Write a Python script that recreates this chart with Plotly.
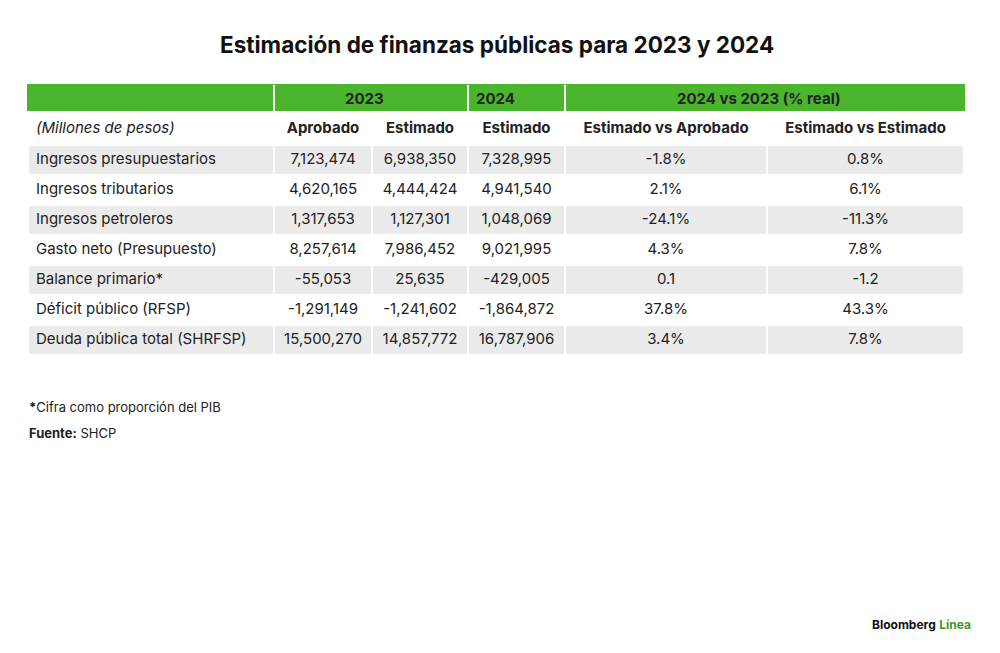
import plotly.graph_objects as go

labels = ["Ingresos presupuestarios", "Ingresos tributarios", "Ingresos petroleros",
          "Gasto neto (Presupuesto)", "Balance primario*", "Déficit público (RFSP)",
          "Deuda pública total (SHRFSP)"]
aprobado_2023 = ["7,123,474", "4,620,165", "1,317,653", "8,257,614", "-55,053", "-1,291,149", "15,500,270"]
estimado_2023 = ["6,938,350", "4,444,424", "1,127,301", "7,986,452", "25,635", "-1,241,602", "14,857,772"]
estimado_2024 = ["7,328,995", "4,941,540", "1,048,069", "9,021,995", "-429,005", "-1,864,872", "16,787,906"]
vs_aprobado = ["-1.8%", "2.1%", "-24.1%", "4.3%", "0.1", "37.8%", "3.4%"]
vs_estimado = ["0.8%", "6.1%", "-11.3%", "7.8%", "-1.2", "43.3%", "7.8%"]
subheaders = ["<i>(Millones de pesos)</i>", "<b>Aprobado</b>", "<b>Estimado</b>", "<b>Estimado</b>",
              "<b>Estimado vs Aprobado</b>", "<b>Estimado vs Estimado</b>"]
group_headers = [("2023", 364, "center"), ("2024", 474, "left"), ("2024 vs 2023 (% real)", 759, "center")]

# page has an 8px body margin; convert window pixels to figure paper coords
OFF = 8
W, H = 992, 645
def px(x): return (x - OFF) / W
def py(y): return 1 - (y - OFF) / H

GREEN = "#4bb52e"
GREY = "#ebebeb"
cols = [labels, aprobado_2023, estimado_2023, estimado_2024, vs_aprobado, vs_estimado]
values = [[subheaders[i]] + c for i, c in enumerate(cols)]
fills = ["white"] + [GREY if i % 2 == 0 else "white" for i in range(len(labels))]

fig = go.Figure(go.Table(
    domain=dict(x=[px(28), px(964)], y=[0, py(85)]),
    columnwidth=[246, 98, 96, 97, 202, 197],
    header=dict(values=[""] * 6, height=25, fill_color=GREEN,
                line=dict(color=GREEN, width=2)),
    cells=dict(values=values, height=30,
               align=["left", "center", "center", "center", "center", "center"],
               fill_color=[fills] * 6, line=dict(color="white", width=2),
               font=dict(family="Inter", size=15, color="#222")),
))

shapes = [dict(type="line", xref="paper", yref="paper", x0=px(x), x1=px(x),
               y0=py(85), y1=py(113), line=dict(color="white", width=2))
          for x in (274, 468, 565)]

anns = []
for text, x, al in group_headers:
    anns.append(dict(text=f"<b>{text}</b>", x=px(x), y=py(99), xref="paper", yref="paper",
                     xanchor=al, yanchor="middle", showarrow=False,
                     font=dict(family="Inter", size=15, color="#222")))
anns += [
    dict(text="<b>Estimación de finanzas públicas para 2023 y 2024</b>", x=px(497), y=py(44),
         xref="paper", yref="paper", xanchor="center", yanchor="middle", showarrow=False,
         font=dict(family="Inter", size=22.5, color="#111")),
    dict(text="<b>*</b>Cifra como proporción del PIB", x=px(27), y=py(407), xref="paper", yref="paper",
         xanchor="left", yanchor="middle", showarrow=False, font=dict(family="Inter", size=13, color="#222")),
    dict(text="<b>Fuente:</b> SHCP", x=px(27), y=py(433), xref="paper", yref="paper",
         xanchor="left", yanchor="middle", showarrow=False, font=dict(family="Inter", size=13, color="#222")),
    dict(text="<b>Bloomberg</b> <b><span style='color:#3a9a1e'>Línea</span></b>", x=px(973), y=py(624),
         xref="paper", yref="paper", xanchor="right", yanchor="middle", showarrow=False,
         font=dict(family="Inter", size=12, color="#111")),
]
fig.update_layout(width=W, height=H, margin=dict(l=0, r=0, t=0, b=0),
                  paper_bgcolor="white", annotations=anns, shapes=shapes)
fig.write_html("out.html")
